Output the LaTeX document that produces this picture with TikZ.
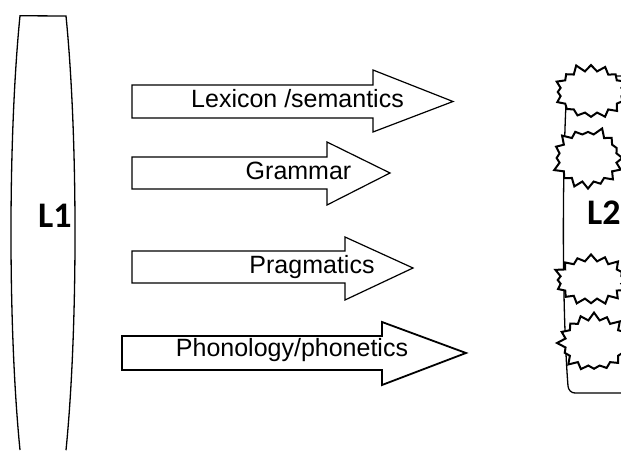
\documentclass[tikz,border=0pt]{standalone}
\usepackage{fontspec}
\setmainfont{Liberation Sans}
\newfontfamily\labelfont{Carlito}
\usetikzlibrary{shapes.symbols}

\tikzset{
  fatarrow/.style={draw=black, fill=white, line width=1.2pt, line join=miter},
  arrowtext/.style={anchor=base, inner sep=0pt, font=\fontsize{25}{25}\selectfont},
  langlabel/.style={anchor=base west, inner sep=0pt, font=\labelfont\bfseries\fontsize{36}{36}\selectfont},
  langshape/.style={draw=black, line width=1.3pt},
  burst/.style={starburst, draw=black, fill=white, line width=2pt,
    starburst points=16, starburst point height=8pt, inner sep=0pt,
    minimum width=78pt, minimum height=58pt}
}

\begin{document}
\begin{tikzpicture}[x=1pt, y=1pt]
\useasboundingbox (0,0) rectangle (621,450);

% L1: tall lens, flat top, running off the bottom edge
\draw[langshape] (20,0)
  arc[start angle=224.1, end angle=135.9, x radius=32, y radius=312]
  -- (66,434)
  arc[start angle=44.1, end angle=-44.1, x radius=32, y radius=312];
\node[langlabel] (L1) at (38,222) {L1};

% L2: rounded box running off the right edge
\draw[langshape] (621,374) -- (573,374) to[out=180,in=95] (567,366)
  .. controls (562,280) and (562,140) .. (568,64)
  to[out=-85,in=180] (575,57) -- (621,57);
\node[langlabel] (L2) at (587,225) {L2};

% explosions along the L2 edge
\node[burst, random starburst=11] (b1) at (591,358) {};
\node[burst, random starburst=23, minimum width=74pt, minimum height=64pt] (b2) at (588,292) {};
\node[burst, random starburst=37, minimum height=54pt] (b3) at (591,170) {};
\node[burst, random starburst=53, minimum width=74pt, minimum height=62pt] (b4) at (594,107) {};

% block arrows from L1 towards L2
\draw[fatarrow] (132,365) -- (373,365) -- (373,380) -- (453,348.5)
  -- (373,318) -- (373,332) -- (132,332) -- cycle;
\node[arrowtext] (lex) at (297.5,342) {Lexicon /semantics};

\draw[fatarrow] (132,293) -- (327,293) -- (327,308) -- (390,277)
  -- (327,245) -- (327,261) -- (132,261) -- cycle;
\node[arrowtext] (gram) at (298.5,270) {Grammar};

\draw[fatarrow] (132,199) -- (345,199) -- (345,213) -- (413,182)
  -- (345,150) -- (345,167) -- (132,167) -- cycle;
\node[arrowtext] (prag) at (312,176) {Pragmatics};

\draw[fatarrow, line width=1.8pt] (122,114) -- (382,114) -- (382,128) -- (466,97)
  -- (382,65) -- (382,80) -- (122,80) -- cycle;
\node[arrowtext] (phon) at (292,93) {Phonology/phonetics};
\end{tikzpicture}
\end{document}
